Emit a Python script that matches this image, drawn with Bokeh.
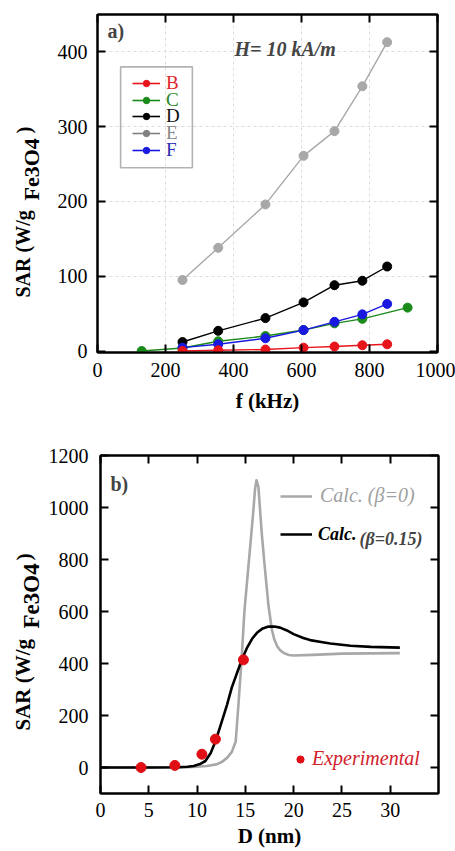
import numpy as np
from bokeh.plotting import figure
from bokeh.models import (Range1d, FixedTicker, LinearAxis, Label, Legend,
                          LegendItem, BoxAnnotation)
from bokeh.layouts import column, row
from bokeh.embed import file_html
from bokeh.resources import INLINE
from bokeh.core.properties import value

# ---------------- data: panel a (SAR vs frequency, H = 10 kA/m) ----------------
freq = [250, 355, 494, 606, 697, 779, 852]
freq_C = [130, 250, 355, 494, 606, 697, 779, 912]
sar_B = [0, 1, 2, 4.5, 6, 7.7, 9]
sar_C = [0, 4, 13, 20, 28, 37, 43, 58]
sar_D = [12, 27, 44, 65, 88, 94, 113]
sar_E = [95, 138, 196, 261, 294, 354, 413]
sar_F = [4.5, 9, 17, 28, 39, 49, 63]
series_names = ["B", "C", "D", "E", "F"]
a_xticks = [0, 200, 400, 600, 800, 1000]
a_yticks = [0, 100, 200, 300, 400]

# ---------------- data: panel b (SAR vs diameter) ----------------
D_calc0 = [0, 5, 9, 10, 11, 12, 12.6, 13.1, 13.6, 14.0, 14.3, 14.6, 14.9, 15.2,
           15.5, 15.8, 16.0, 16.15, 16.35, 16.7, 17.0, 17.4, 17.75, 18.0, 18.3,
           18.6, 19.0, 19.5, 20, 22, 25, 28, 31]
SAR_calc0 = [0, 0, 1, 3, 6, 12, 22, 37, 60, 100, 250, 410, 600, 725,
             850, 975, 1070, 1105, 1080, 900, 775, 620, 530, 492, 466,
             451, 440, 433, 431, 433, 438, 439, 440]
D_calc15 = [0, 5, 8, 9, 9.65, 10.3, 10.86, 11.4, 11.9, 12.5, 13.1, 13.6, 14.2,
            14.7, 15.15, 15.7, 16.2, 16.8, 17.4, 18.0, 18.6, 19.3, 20, 21, 21.7,
            23, 23.8, 25.9, 28, 31]
SAR_calc15 = [0, 0, 1, 3, 6, 13, 25, 55, 100, 170, 241, 308, 370, 420, 459,
              495, 518, 535, 542, 542, 538, 527, 513, 498, 490, 482, 477, 468,
              464, 461]
D_exp = [4.2, 7.7, 10.5, 11.9, 14.8]
SAR_exp = [0, 8, 51, 109, 414]
b_xticks = [0, 5, 10, 15, 20, 25, 30]
b_yticks = [0, 200, 400, 600, 800, 1000, 1200]

ylabel_parts = ["SAR (W/g", "Fe3O4", ")"]

FONT = "Liberation Serif"
LABW = 44     # width of the strip that carries the rotated y-axis titles
FRAME_H = 338  # plot-frame height of both panels (strip frame is aligned to it)


def frame_axes(p, xticks, yticks):
    bottom, left = p.below[0], p.left[0]
    for ax in (bottom, left):
        ax.axis_line_width = 2
        ax.major_tick_in = 8
        ax.major_tick_out = 0
        ax.major_tick_line_width = 2
        ax.minor_tick_line_color = None
        ax.major_label_text_font = FONT
        ax.major_label_text_font_size = "20px"
        ax.major_label_text_color = "black"
        ax.axis_label_text_font = FONT
        ax.axis_label_text_font_size = "21px"
        ax.axis_label_text_font_style = "bold"
        ax.axis_label_text_color = "black"
    bottom.ticker = FixedTicker(ticks=xticks)
    left.ticker = FixedTicker(ticks=yticks)
    extra = dict(major_label_text_font_size="0px", axis_line_width=2, major_tick_in=8,
                 major_tick_out=0, major_tick_line_width=2, minor_tick_line_color=None,
                 major_label_standoff=0, axis_label=None)
    p.add_layout(LinearAxis(ticker=FixedTicker(ticks=xticks), **extra), "above")
    p.add_layout(LinearAxis(ticker=FixedTicker(ticks=yticks), **extra), "right")
    p.outline_line_color = "black"
    p.outline_line_width = 2
    p.background_fill_color = "white"
    p.border_fill_color = "white"
    return bottom, left


def ylabel_strip(height, xs, ys, sizes):
    # y measured in pixels up from the bottom of the (aligned) plot frame
    s = figure(width=LABW, height=height, x_range=Range1d(0, LABW),
               y_range=Range1d(0, FRAME_H),
               output_backend="svg", toolbar_location=None, min_border=0,
               x_axis_location=None, y_axis_location=None)
    s.grid.grid_line_color = None
    s.outline_line_color = None
    s.border_fill_color = "white"
    s.background_fill_color = "white"
    s.text(x=xs, y=ys, text=ylabel_parts, angle=np.pi / 2, text_font=value(FONT),
           text_font_size=sizes, text_font_style="bold", text_color="black",
           text_align="left", text_baseline="middle")
    return s


# ---------------- panel a ----------------
HA = 420
pa = figure(width=455 - LABW, height=HA, x_range=Range1d(0, 1000), y_range=Range1d(-2, 450),
            output_backend="svg", toolbar_location=None,
            min_border_left=97 - LABW, min_border_right=18, min_border_top=14,
            min_border_bottom=68)
ba, la = frame_axes(pa, a_xticks, a_yticks)
ba.axis_label = "f (kHz)"
ba.major_label_standoff = 10
ba.axis_label_standoff = 9
la.major_label_standoff = 10
pa.xgrid.ticker = FixedTicker(ticks=[200, 400, 600, 800])
pa.ygrid.ticker = FixedTicker(ticks=[100, 200, 300, 400])
pa.grid.grid_line_color = "#dcdcdc"
pa.grid.grid_line_dash = "3 3"
pa.grid.grid_line_width = 1

cols = {"B": "#e8141c", "C": "#1a8a1a", "D": "#000000", "E": "#a8a8a8", "F": "#1818e0"}
key_cols = {"B": "#e8141c", "C": "#1a8a1a", "D": "#000000", "E": "#808080", "F": "#1818e0"}
text_cols = {"B": "#e0262e", "C": "#2a8a2a", "D": "#111111", "E": "#8a8a8a", "F": "#2a2ab0"}
data = {"B": (freq, sar_B), "C": (freq_C, sar_C), "D": (freq, sar_D),
        "E": (freq, sar_E), "F": (freq, sar_F)}
for name in ["E", "D", "C", "F", "B"]:
    xs, ys = data[name]
    pa.line(xs, ys, line_color=cols[name], line_width=1.4)
    pa.scatter(xs, ys, size=9, fill_color=cols[name], line_color=cols[name])

# legend keys: one legend per series so each label keeps its own colour
for i, name in enumerate(series_names):
    xs, ys = data[name]
    k1 = pa.line(xs, ys, line_color=key_cols[name], line_width=1.6, visible=False)
    k2 = pa.scatter(xs, ys, size=9, fill_color=key_cols[name], line_color=key_cols[name],
                    visible=False)
    pa.add_layout(Legend(items=[LegendItem(label=name, renderers=[k1, k2])],
                         location=(35, 258 - i * 16.7),
                         label_text_font=FONT, label_text_font_size="19px",
                         label_text_color=text_cols[name],
                         glyph_width=28, glyph_height=16, label_height=16, label_standoff=6,
                         padding=0, margin=0, spacing=0,
                         border_line_color=None, background_fill_alpha=0))
pa.add_layout(BoxAnnotation(left=68, right=279, bottom=245, top=380,
                            fill_alpha=0, line_color="black", line_width=1.6))
pa.add_layout(Label(x=10, y=322, x_units="screen", y_units="screen", text="a)",
                    text_font=FONT, text_font_size="20px", text_font_style="bold",
                    text_baseline="middle"))
pa.add_layout(Label(x=137, y=304, x_units="screen", y_units="screen", text="H= 10 kA/m",
                    text_font=FONT, text_font_size="20px", text_font_style="bold italic",
                    text_baseline="middle"))
sa = ylabel_strip(HA, [22, 31, 23], [55, 152, 219], ["20px", "22px", "21px"])

# ---------------- panel b ----------------
HB = 431
pb = figure(width=455 - LABW, height=HB, x_range=Range1d(0, 35), y_range=Range1d(-100, 1200),
            output_backend="svg", toolbar_location=None,
            min_border_left=100 - LABW, min_border_right=17, min_border_top=35,
            min_border_bottom=58)
bb, lb = frame_axes(pb, b_xticks, b_yticks)
pb.grid.grid_line_color = None
bb.axis_label = "D (nm)"
bb.major_label_standoff = 9
bb.axis_label_standoff = 4
lb.major_label_standoff = 12

g0 = pb.line(D_calc0, SAR_calc0, line_color="#a8a8a8", line_width=2.6, line_join="round")
g15 = pb.line(D_calc15, SAR_calc15, line_color="black", line_width=2.6, line_join="round")
ge = pb.scatter(D_exp, SAR_exp, size=10, fill_color="#e00f16", line_color="#e00f16")

common_leg = dict(padding=0, margin=0, spacing=0, border_line_color=None,
                  background_fill_alpha=0, label_text_font=FONT)
pb.add_layout(Legend(items=[LegendItem(label="Calc. (\u03b2=0)", renderers=[g0])],
                     location=(180, 286), glyph_width=32, glyph_height=22, label_height=22,
                     label_standoff=8, label_text_font_size="20px",
                     label_text_font_style="italic", label_text_color="#a0a0a0", **common_leg))
pb.add_layout(Legend(items=[LegendItem(label="Calc.", renderers=[g15])],
                     location=(180, 248), glyph_width=32, glyph_height=22, label_height=22,
                     label_standoff=6, label_text_font_size="18px",
                     label_text_font_style="bold italic", label_text_color="black", **common_leg))
pb.add_layout(Label(x=259, y=255, x_units="screen", y_units="screen", text="(\u03b2=0.15)",
                    text_font=FONT, text_font_size="18px", text_font_style="bold italic",
                    text_baseline="middle"))
pb.add_layout(Legend(items=[LegendItem(label="Experimental", renderers=[ge])],
                     location=(191, 23), glyph_width=18, glyph_height=18, label_height=22,
                     label_standoff=3, label_text_font_size="20px",
                     label_text_font_style="italic", label_text_color="#d0202a", **common_leg))
pb.add_layout(Label(x=10, y=310, x_units="screen", y_units="screen", text="b)",
                    text_font=FONT, text_font_size="20px", text_font_style="bold",
                    text_baseline="middle"))
sb = ylabel_strip(HB, [22, 31, 23], [63, 165, 233], ["21px", "23px", "22px"])

layout = column(row(sa, pa, spacing=0), row(sb, pb, spacing=0), spacing=0)
open("out.html", "w").write(file_html(layout, INLINE))
